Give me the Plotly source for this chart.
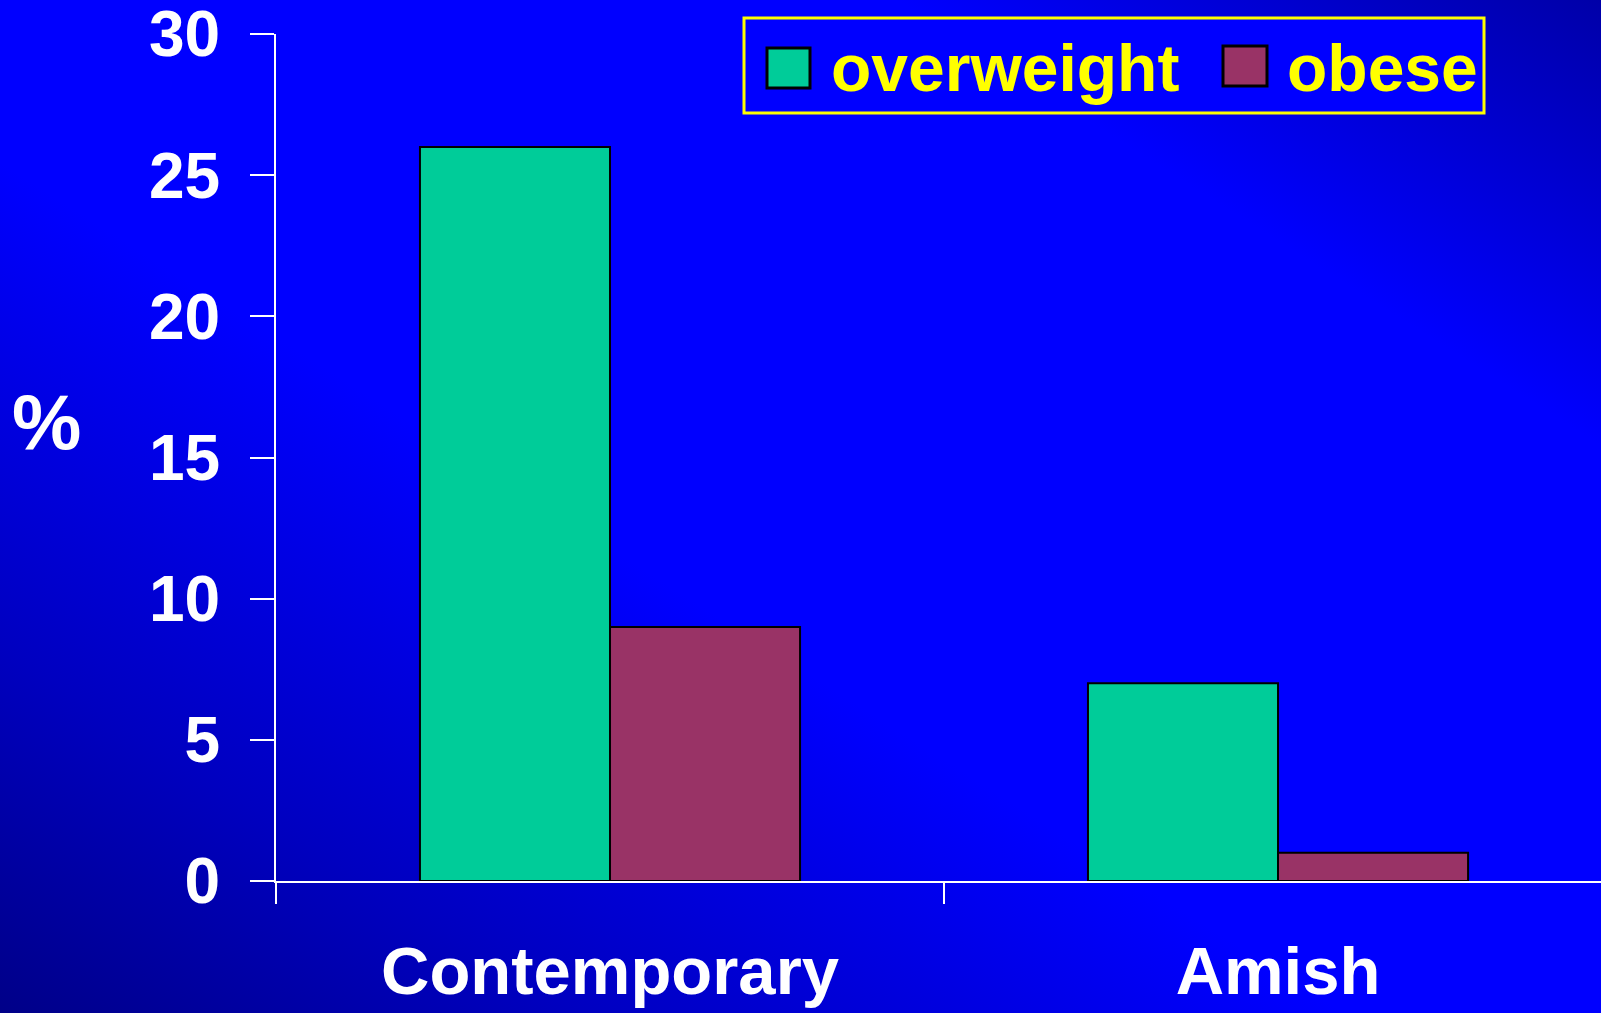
import base64
import plotly.graph_objects as go

# Share of population (%) by group
categories = ["Contemporary", "Amish"]
series_names = ["overweight", "obese"]
overweight = [26, 7]
obese = [9, 1]
y_ticks = [0, 5, 10, 15, 20, 25, 30]

series_colors = ["#00CC99", "#993366"]

W, H = 1601, 1013
L, R, T, B = 276, 0, 34, 132
plot_w = W - L - R
plot_h = H - T - B

FONT = "Liberation Sans, Arial, Helvetica, sans-serif"


def px_x(px):
    return (px - L) / plot_w


def px_y(py):
    return (H - B - py) / plot_h


# Diagonal blue gradient for the slide background
svg = f"""<svg xmlns='http://www.w3.org/2000/svg' width='{W}' height='{H}' viewBox='0 0 {W} {H}' preserveAspectRatio='none'>
<defs><linearGradient id='g' x1='0' y1='1' x2='1' y2='0'>
<stop offset='0' stop-color='#000088'/>
<stop offset='0.18' stop-color='#0000C0'/>
<stop offset='0.42' stop-color='#0000FF'/>
<stop offset='0.78' stop-color='#0000FF'/>
<stop offset='1' stop-color='#0000A8'/>
</linearGradient></defs>
<rect x='0' y='0' width='{W}' height='{H}' fill='url(#g)'/>
</svg>"""
bg_uri = "data:image/svg+xml;base64," + base64.b64encode(svg.encode()).decode()

fig = go.Figure()
for name, vals, col in zip(series_names, [overweight, obese], series_colors):
    fig.add_trace(go.Bar(
        x=categories, y=vals, name=name,
        marker=dict(color=col, line=dict(color="black", width=2)),
        showlegend=False,
    ))

fig.update_layout(
    width=W, height=H,
    margin=dict(l=L, r=R, t=T, b=B, pad=0, autoexpand=False),
    paper_bgcolor="#0000FF",
    plot_bgcolor="rgba(0,0,0,0)",
    barmode="group",
    bargap=0.431,
    bargroupgap=0,
    images=[dict(
        source=bg_uri, xref="paper", yref="paper",
        x=px_x(0), y=px_y(0), sizex=W / plot_w, sizey=H / plot_h,
        xanchor="left", yanchor="top", sizing="stretch", layer="below",
    )],
    xaxis=dict(
        range=[-0.5, 1.4835], automargin=False,
        showgrid=False, zeroline=False,
        showline=True, linecolor="white", linewidth=2,
        ticks="outside", tickson="boundaries", ticklen=21, tickwidth=2, tickcolor="white",
        tickfont=dict(family=FONT, size=67, color="white", weight="bold"),
        ticklabelstandoff=31,
    ),
    yaxis=dict(
        range=[0, 30], tickvals=y_ticks, automargin=False,
        showgrid=False, zeroline=False,
        showline=True, linecolor="white", linewidth=2,
        ticks="outside", ticklen=24, tickwidth=2, tickcolor="white",
        tickfont=dict(family=FONT, size=64, color="white", weight="bold"),
        ticklabelstandoff=17,
        ticklabeloverflow="allow",
    ),
)

# Axis label
fig.add_annotation(
    text="%", xref="paper", yref="paper", x=px_x(47), y=px_y(422),
    xanchor="center", yanchor="middle", showarrow=False,
    font=dict(family=FONT, size=78, color="white", weight="bold"),
)

# Legend box with swatches
fig.add_shape(type="rect", xref="paper", yref="paper",
              x0=px_x(744), x1=px_x(1484), y0=px_y(113), y1=px_y(18),
              line=dict(color="#FFFF00", width=3), fillcolor="#0000FF", layer="above")
swatches = [(767, 810, 48, 88, 833), (1223, 1267, 46, 86, 1289)]
for (x0, x1, y0, y1, tx), name, col in zip(swatches, series_names, series_colors):
    fig.add_shape(type="rect", xref="paper", yref="paper",
                  x0=px_x(x0), x1=px_x(x1), y0=px_y(y1), y1=px_y(y0),
                  line=dict(color="black", width=3), fillcolor=col, layer="above")
    fig.add_annotation(
        text=name, xref="paper", yref="paper", x=px_x(tx - 4), y=px_y(68),
        xanchor="left", yanchor="middle", showarrow=False,
        font=dict(family=FONT, size=66, color="#FFFF00", weight="bold"),
    )

# Keep descenders of the category labels from adding page scrollbars
fig.write_html(
    "out.html",
    post_script="document.documentElement.style.overflow='hidden';"
                "document.body.style.overflow='hidden';document.body.style.margin='0';",
)
